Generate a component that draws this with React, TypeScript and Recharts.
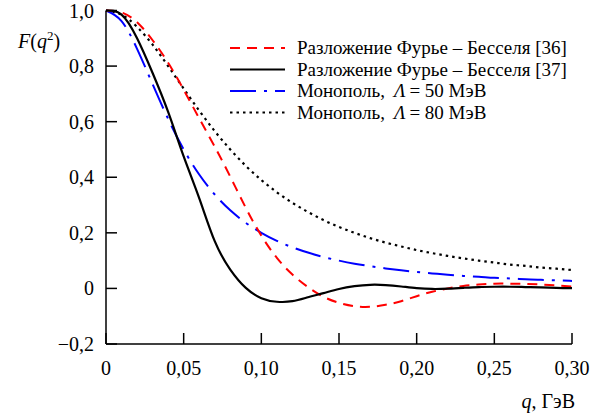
import React from 'react';
import { LineChart, Line, XAxis, YAxis, Legend } from 'recharts';

const qValues = [0, 0.01, 0.02, 0.03, 0.04, 0.05, 0.06, 0.07, 0.08, 0.09, 0.1, 0.11, 0.12, 0.13, 0.14, 0.15, 0.16, 0.17, 0.18, 0.19, 0.2, 0.21, 0.22, 0.23, 0.24, 0.25, 0.26, 0.27, 0.28, 0.29, 0.3];
const fourierBessel36 = [1.0, 0.993, 0.958, 0.893, 0.812, 0.715, 0.612, 0.51, 0.402, 0.29, 0.19, 0.11, 0.05, 0.005, -0.03, -0.052, -0.064, -0.066, -0.059, -0.046, -0.028, -0.012, 0.0, 0.009, 0.014, 0.017, 0.017, 0.016, 0.014, 0.011, 0.007];
const fourierBessel37 = [1.0, 0.985, 0.9, 0.775, 0.635, 0.475, 0.325, 0.17, 0.068, 0.002, -0.035, -0.048, -0.046, -0.032, -0.017, -0.002, 0.008, 0.013, 0.012, 0.007, 0.001, -0.002, -0.001, 0.002, 0.005, 0.006, 0.006, 0.005, 0.004, 0.002, 0.001];
const monopole50 = [1.0, 0.962, 0.862, 0.735, 0.61, 0.5, 0.41, 0.338, 0.281, 0.236, 0.2, 0.171, 0.148, 0.129, 0.113, 0.1, 0.089, 0.08, 0.072, 0.065, 0.059, 0.054, 0.049, 0.045, 0.042, 0.038, 0.036, 0.033, 0.031, 0.029, 0.027];
const monopole80 = [1.0, 0.985, 0.941, 0.877, 0.8, 0.719, 0.64, 0.566, 0.5, 0.441, 0.39, 0.346, 0.308, 0.275, 0.246, 0.221, 0.2, 0.181, 0.165, 0.151, 0.138, 0.127, 0.117, 0.108, 0.1, 0.093, 0.086, 0.081, 0.075, 0.071, 0.066];

const xTicks = [0, 0.05, 0.1, 0.15, 0.2, 0.25, 0.3];
const yTicks = [-0.2, 0, 0.2, 0.4, 0.6, 0.8, 1.0];

const legendLabels = [
  { key: 'fb36', pre: 'Разложение Фурье – Бесселя [36]', sym: '', post: '' },
  { key: 'fb37', pre: 'Разложение Фурье – Бесселя [37]', sym: '', post: '' },
  { key: 'm50', pre: 'Монополь,', sym: 'Λ', post: '= 50 МэВ' },
  { key: 'm80', pre: 'Монополь,', sym: 'Λ', post: '= 80 МэВ' },
];

const FONT = '"Liberation Serif", "DejaVu Serif", "Times New Roman", serif';

const seriesStyle: Record<string, { color: string; dash?: string; width: number }> = {
  fb36: { color: '#ff0000', dash: '10 7', width: 2 },
  fb37: { color: '#000000', width: 2.2 },
  m50: { color: '#0000ff', dash: '26 8 3 8', width: 2 },
  m80: { color: '#000000', dash: '2.5 4', width: 2.2 },
};

const data = qValues.map((q, i) => ({
  q,
  fb36: fourierBessel36[i],
  fb37: fourierBessel37[i],
  m50: monopole50[i],
  m80: monopole80[i],
}));

const fmt = (v: number, digits: number) =>
  Math.abs(v) < 1e-9 ? '0' : (v < 0 ? '\u2212' : '') + Math.abs(v).toFixed(digits).replace('.', ',');

const XTick = (props: any) => {
  const { x, y, payload } = props;
  return (
    <g>
      <line x1={x} y1={y} x2={x} y2={y - 11} stroke="#000" strokeWidth={1.5} />
      <text x={x} y={y + 31} textAnchor="middle" style={{ fontFamily: FONT }} fontSize={20} fill="#000">
        {fmt(payload.value, 2)}
      </text>
    </g>
  );
};

const YTick = (props: any) => {
  const { x, y, payload } = props;
  return (
    <g>
      <line x1={x} y1={y} x2={x + 11} y2={y} stroke="#000" strokeWidth={1.5} />
      <text x={x - 12} y={y + 7} textAnchor="end" style={{ fontFamily: FONT }} fontSize={20} fill="#000">
        {fmt(payload.value, 1)}
      </text>
    </g>
  );
};

const YLabel = (props: any) => {
  const vb = props.viewBox || { x: 10, y: 10 };
  return (
    <text x={vb.x + 8} y={vb.y + 37} style={{ fontFamily: FONT }} fontSize={20} fill="#000">
      <tspan fontStyle="italic">F</tspan>
      <tspan>(</tspan>
      <tspan fontStyle="italic">q</tspan>
      <tspan dy={-8} fontSize={13}>2</tspan>
      <tspan dy={8}>)</tspan>
    </text>
  );
};

const XLabel = (props: any) => {
  const vb = props.viewBox || { x: 106, y: 344, width: 466 };
  return (
    <text x={vb.x + vb.width + 3} y={vb.y + 64} textAnchor="end" style={{ fontFamily: FONT }} fontSize={20} fill="#000">
      <tspan fontStyle="italic">q</tspan>
      <tspan>, ГэВ</tspan>
    </text>
  );
};

const LegendContent = () => (
  <svg width={350} height={90} style={{ display: 'block' }}>
    {legendLabels.map((item, i) => {
      const st = seriesStyle[item.key];
      const cy = 12 + i * 21.5;
      return (
        <g key={item.key}>
          <line x1={5} y1={cy} x2={60} y2={cy} stroke={st.color} strokeWidth={st.width} strokeDasharray={st.dash} />
          <text x={72} y={cy + 6} style={{ fontFamily: FONT }} fontSize={19} fill="#000">
            <tspan>{item.pre}</tspan>
            {item.sym ? (
              <>
                <tspan dx={9} fontStyle="italic">{item.sym}</tspan>
                <tspan dx={4}>{item.post}</tspan>
              </>
            ) : null}
          </text>
        </g>
      );
    })}
  </svg>
);

export default function App() {
  return (
    <div style={{ position: 'absolute', left: 0, top: 0, width: 616, height: 416, background: '#fff' }}>
      <LineChart
        width={616}
        height={416}
        data={data}
        margin={{ top: 10.5, right: 44, left: 10, bottom: 20 }}
      >
        <XAxis
          xAxisId="b"
          dataKey="q"
          type="number"
          domain={[0, 0.3]}
          ticks={xTicks}
          interval={0}
          height={52}
          tickSize={0}
          tickMargin={0}
          tickLine={false}
          tick={<XTick />}
          axisLine={{ stroke: '#000', strokeWidth: 1.5 }}
          label={<XLabel />}
        />
        <XAxis
          xAxisId="t"
          dataKey="q"
          type="number"
          orientation="top"
          domain={[0, 0.3]}
          height={0}
          tick={false}
          tickLine={false}
          axisLine={{ stroke: '#000', strokeWidth: 1.5 }}
        />
        <YAxis
          yAxisId="l"
          type="number"
          domain={[-0.2, 1.0]}
          ticks={yTicks}
          interval={0}
          width={96}
          tickSize={0}
          tickMargin={0}
          tickLine={false}
          tick={<YTick />}
          axisLine={{ stroke: '#000', strokeWidth: 1.5 }}
          label={<YLabel />}
        />
        <YAxis
          yAxisId="r"
          orientation="right"
          type="number"
          domain={[-0.2, 1.0]}
          width={0}
          tick={false}
          tickLine={false}
          axisLine={{ stroke: '#000', strokeWidth: 1.5 }}
        />
        <Legend
          layout="horizontal"
          align="center"
          verticalAlign="middle"
          content={<LegendContent />}
          wrapperStyle={{ position: 'absolute', left: 225, top: 36, width: 350, height: 90 }}
        />
        {(['m80', 'm50', 'fb36', 'fb37'] as const).map((k) => (
          <Line
            key={k}
            xAxisId="b"
            yAxisId="l"
            dataKey={k}
            type="natural"
            stroke={seriesStyle[k].color}
            strokeWidth={seriesStyle[k].width}
            strokeDasharray={seriesStyle[k].dash}
            dot={false}
            activeDot={false}
            isAnimationActive={false}
          />
        ))}
      </LineChart>
    </div>
  );
}
